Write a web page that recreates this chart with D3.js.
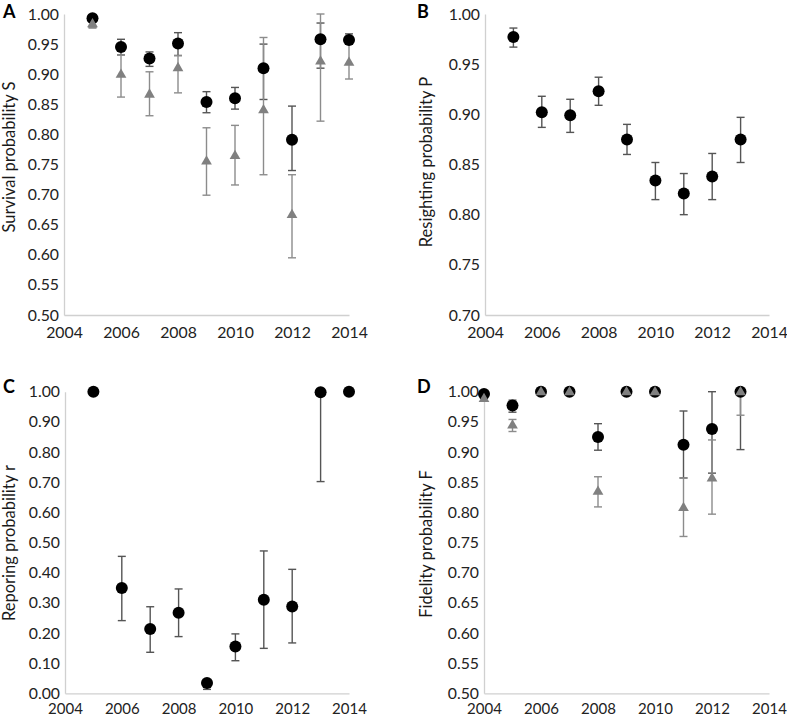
<!DOCTYPE html>
<html>
<head>
<meta charset="utf-8">
<script src="https://cdn.jsdelivr.net/npm/d3@7/dist/d3.min.js"></script>
<style>
  html, body { margin: 0; padding: 0; background: #fff; }
  svg text { font-family: Lato, "Open Sans", sans-serif; }
</style>
</head>
<body>
<svg id="chart" width="787" height="717"></svg>
<script>
// ---------- DATA ----------
// Panel A: Survival probability S
const yearsA = [2005, 2006, 2007, 2008, 2009, 2010, 2011, 2012, 2013, 2014];
const sBlack   = [0.993, 0.945, 0.926, 0.951, 0.854, 0.860, 0.910, 0.791, 0.958, 0.957];
const sBlackLo = [0.977, 0.932, 0.913, 0.931, 0.836, 0.842, 0.858, 0.740, 0.910, 0.950];
const sBlackHi = [0.998, 0.958, 0.937, 0.969, 0.871, 0.878, 0.950, 0.847, 0.985, 0.967];
const sGray    = [0.984, 0.900, 0.867, 0.911, 0.756, 0.765, 0.841, 0.667, 0.922, 0.920];
const sGrayLo  = [0.978, 0.862, 0.831, 0.869, 0.699, 0.716, 0.733, 0.595, 0.822, 0.892];
const sGrayHi  = [0.989, 0.932, 0.904, 0.931, 0.811, 0.815, 0.961, 0.733, 1.000, 0.952];

// Panel B: Resighting probability P
const yearsB = [2005, 2006, 2007, 2008, 2009, 2010, 2011, 2012, 2013];
const pBlack   = [0.977, 0.902, 0.899, 0.923, 0.875, 0.834, 0.821, 0.838, 0.875];
const pBlackLo = [0.967, 0.887, 0.882, 0.909, 0.860, 0.815, 0.800, 0.815, 0.852];
const pBlackHi = [0.986, 0.918, 0.915, 0.937, 0.890, 0.852, 0.841, 0.861, 0.897];

// Panel C: Reporing probability r
const yearsC = [2005, 2006, 2007, 2008, 2009, 2010, 2011, 2012, 2013, 2014];
const rBlack   = [1.000, 0.349, 0.213, 0.267, 0.034, 0.155, 0.310, 0.288, 0.998, 1.000];
const rBlackLo = [null, 0.241, 0.136, 0.188, 0.013, 0.108, 0.149, 0.167, 0.702, null];
const rBlackHi = [null, 0.454, 0.287, 0.346, 0.044, 0.197, 0.472, 0.411, 1.000, null];

// Panel D: Fidelity probability F
const yearsD = [2004, 2005, 2006, 2007, 2008, 2009, 2010, 2011, 2012, 2013];
const fBlack   = [0.996, 0.977, 1.000, 1.000, 0.925, 1.000, 1.000, 0.912, 0.938, 1.000];
const fBlackLo = [null, 0.966, null, null, 0.903, null, null, 0.857, 0.865, 0.904];
const fBlackHi = [null, 0.986, null, null, 0.947, null, null, 0.968, 1.000, 1.000];
const fGray    = [0.989, 0.945, 1.000, 1.000, 0.835, 1.000, 1.000, 0.808, 0.857, 1.000];
const fGrayLo  = [null, 0.934, null, null, 0.809, null, null, 0.760, 0.797, 0.961];
const fGrayHi  = [null, 0.954, null, null, 0.859, null, null, 0.857, 0.920, 1.000];

// Tick values
const xTicks = [2004, 2006, 2008, 2010, 2012, 2014];
const yTicksA = [0.50, 0.55, 0.60, 0.65, 0.70, 0.75, 0.80, 0.85, 0.90, 0.95, 1.00];
const yTicksB = [0.70, 0.75, 0.80, 0.85, 0.90, 0.95, 1.00];
const yTicksC = [0.00, 0.10, 0.20, 0.30, 0.40, 0.50, 0.60, 0.70, 0.80, 0.90, 1.00];
const yTicksD = [0.50, 0.55, 0.60, 0.65, 0.70, 0.75, 0.80, 0.85, 0.90, 0.95, 1.00];

// ---------- DRAW ----------
const svg = d3.select("#chart");
const BLACK = "#000000", GRAY = "#808080";
const BAR_BLACK = "#555555", BAR_GRAY = "#8c8c8c";

function zip(years, v, lo, hi) {
  return years.map((yr, i) => ({ yr, v: v[i], lo: lo ? lo[i] : null, hi: hi ? hi[i] : null }));
}

function panel(cfg) {
  const x = d3.scaleLinear().domain([2004, 2014]).range([cfg.x0, cfg.x1]);
  const y = d3.scaleLinear().domain(cfg.yDomain).range([cfg.yb, cfg.yt]);
  const g = svg.append("g");

  // axes
  const ya = g.append("g").attr("transform", `translate(${cfg.x0},0)`)
    .call(d3.axisLeft(y).tickValues(cfg.yTicks).tickFormat(d3.format(".2f")).tickSize(0).tickPadding(5));
  const xa = g.append("g").attr("transform", `translate(0,${cfg.yb})`)
    .call(d3.axisBottom(x).tickValues(xTicks).tickFormat(d3.format("d")).tickSize(0).tickPadding(cfg.xPad));
  ya.select(".domain").attr("stroke", "#d0d0d0").attr("stroke-width", 1.3);
  xa.select(".domain").attr("stroke", "#d0d0d0").attr("stroke-width", 1.3);
  ya.selectAll("text").attr("font-size", 15.8).attr("fill", "#222").attr("font-family", "Lato, sans-serif");
  xa.selectAll("text").attr("font-size", cfg.xFont).attr("fill", "#222").attr("font-family", "Lato, sans-serif");

  // y title
  g.append("text")
    .attr("transform", `translate(${cfg.titleX},${cfg.titleY}) rotate(-90)`)
    .attr("text-anchor", "middle").attr("font-size", 16.5).attr("fill", "#1a1a1a")
    .text(cfg.title);

  // panel letter
  g.append("text").attr("x", cfg.letterX).attr("y", cfg.letterY)
    .attr("font-family", "'Liberation Sans', Arial, sans-serif")
    .attr("font-weight", "bold").attr("font-size", 18).attr("fill", "#000")
    .text(cfg.letter);

  const cap = 4;
  function errorBars(data, color) {
    const eb = g.append("g").attr("stroke", color).attr("stroke-width", 1.4).attr("fill", "none");
    const d = data.filter(p => p.lo != null && p.hi != null);
    eb.selectAll("line.v").data(d).join("line")
      .attr("x1", p => x(p.yr)).attr("x2", p => x(p.yr))
      .attr("y1", p => y(p.lo)).attr("y2", p => y(p.hi));
    eb.selectAll("line.lo").data(d).join("line").attr("class", "lo")
      .attr("x1", p => x(p.yr) - cap).attr("x2", p => x(p.yr) + cap)
      .attr("y1", p => y(p.lo)).attr("y2", p => y(p.lo));
    eb.selectAll("line.hi").data(d).join("line").attr("class", "hi")
      .attr("x1", p => x(p.yr) - cap).attr("x2", p => x(p.yr) + cap)
      .attr("y1", p => y(p.hi)).attr("y2", p => y(p.hi));
  }

  cfg.black && errorBars(cfg.black, BAR_BLACK);
  cfg.gray && errorBars(cfg.gray, BAR_GRAY);

  if (cfg.black) {
    g.append("g").selectAll("circle").data(cfg.black).join("circle")
      .attr("cx", p => x(p.yr)).attr("cy", p => y(p.v)).attr("r", 6)
      .attr("fill", BLACK);
  }
  if (cfg.gray) {
    const tri = d3.symbol().type(d3.symbolTriangle).size(50);
    g.append("g").selectAll("path").data(cfg.gray).join("path")
      .attr("transform", p => `translate(${x(p.yr)},${y(p.v) + 0.5})`)
      .attr("d", tri).attr("fill", GRAY);
  }
}

panel({
  letter: "A", letterX: 3, letterY: 18,
  x0: 64, x1: 349, yt: 14, yb: 315, yDomain: [0.5, 1.0], yTicks: yTicksA, xPad: 12, xFont: 15.8,
  title: "Survival probability S", titleX: 14.5, titleY: 157,
  black: zip(yearsA, sBlack, sBlackLo, sBlackHi),
  gray: zip(yearsA, sGray, sGrayLo, sGrayHi)
});
panel({
  letter: "B", letterX: 417, letterY: 18,
  x0: 485, x1: 769, yt: 14, yb: 315, yDomain: [0.7, 1.0], yTicks: yTicksB, xPad: 12, xFont: 15.8,
  title: "Resighting probability P", titleX: 432, titleY: 162,
  black: zip(yearsB, pBlack, pBlackLo, pBlackHi)
});
panel({
  letter: "C", letterX: 3, letterY: 393,
  x0: 65, x1: 349, yt: 391.7, yb: 693.3, yDomain: [0.0, 1.0], yTicks: yTicksC, xPad: 10, xFont: 15,
  title: "Reporing probability r", titleX: 14.5, titleY: 543,
  black: zip(yearsC, rBlack, rBlackLo, rBlackHi)
});
panel({
  letter: "D", letterX: 417, letterY: 393,
  x0: 484, x1: 769, yt: 391.7, yb: 693.3, yDomain: [0.5, 1.0], yTicks: yTicksD, xPad: 10, xFont: 15,
  title: "Fidelity probability F", titleX: 432, titleY: 544,
  black: zip(yearsD, fBlack, fBlackLo, fBlackHi),
  gray: zip(yearsD, fGray, fGrayLo, fGrayHi)
});
</script>
</body>
</html>
